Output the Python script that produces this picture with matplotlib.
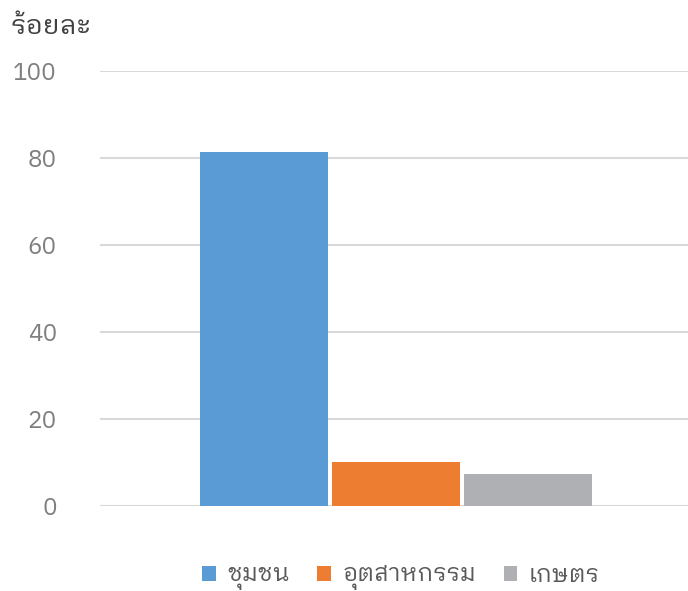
import matplotlib
matplotlib.use("Agg")
import matplotlib.pyplot as plt
from matplotlib.patches import Patch

series = ["ชุมชน", "อุตสาหกรรม", "เกษตร"]
values = [81.4, 10.2, 7.3]
colors = ["#5b9bd5", "#ed7d31", "#afb0b3"]
yticks = [0, 20, 40, 60, 80, 100]
ylabel = "ร้อยละ"

plt.rcParams['font.family'] = ['IBM Plex Sans Thai Looped', 'Noto Sans', 'DejaVu Sans']
plt.rcParams['font.weight'] = 'normal'

W, H = 688, 591
fig = plt.figure(figsize=(W / 100, H / 100), dpi=100)
ax = fig.add_axes([100 / W, 1 - 506 / H, 588 / W, 435 / H])
ax.set_xlim(-0.5, 0.5)
ax.set_ylim(0, 100)

step = 132 / 588
width = 128 / 588
n = len(series)
for i, (s, v, c) in enumerate(zip(series, values, colors)):
    off = (i - (n - 1) / 2) * step + 2 / 588
    ax.bar(off, v, width=width, color=c, zorder=3, label=s)

ax.set_yticks(yticks)
ax.set_yticklabels([str(t) for t in yticks], fontsize=17.5, color="#7f7f7f")
ax.tick_params(axis='y', length=0, pad=31)
ax.set_xticks([])
ax.grid(axis='y', color="#d9d9d9", linewidth=1.5, zorder=0)
ax.set_axisbelow(True)
for sp in ax.spines.values():
    sp.set_visible(False)

fig.text(11 / W, 1 - 27 / H, ylabel, fontsize=19.5, color="#404040", va='center', ha='left')

handles = [Patch(facecolor=c, edgecolor='none') for c in colors]
leg = fig.legend(handles, series, loc='center', bbox_to_anchor=(401 / W, 1 - 577 / H),
                 ncol=3, frameon=False, prop={'size': 17},
                 handlelength=0.58, handleheight=0.58,
                 handletextpad=0.5, columnspacing=1.15)
for t in leg.get_texts():
    t.set_color("#595959")

fig.savefig("out.png", dpi=100)
